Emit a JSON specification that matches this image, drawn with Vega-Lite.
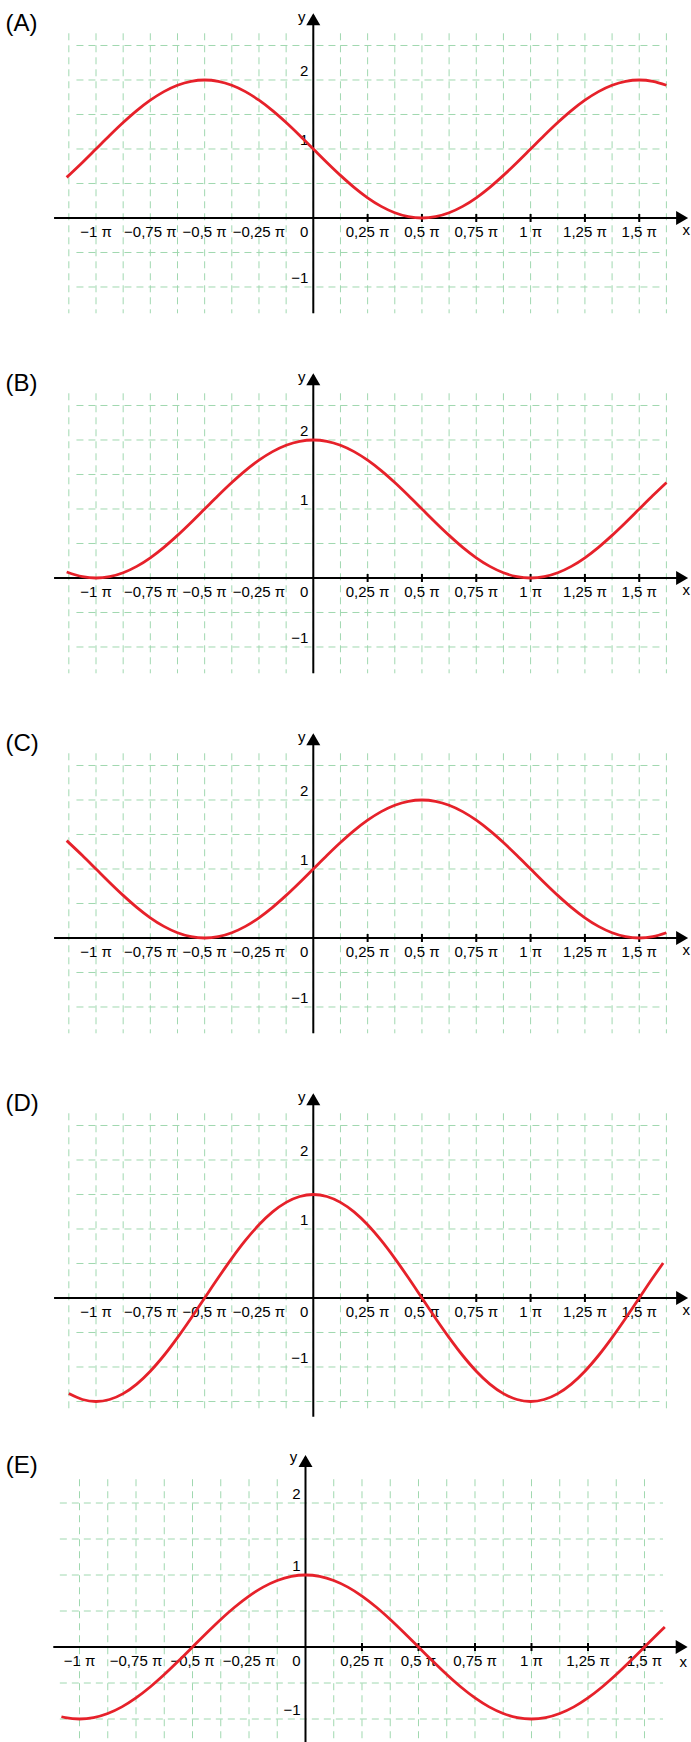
{
"$schema":"https://vega.github.io/schema/vega-lite/v6.json",
"padding":0,"spacing":0,
"config":{"view":{"stroke":null},"concat":{"spacing":0}},
"datasets":{
"vg":[{"x":-1.125},{"x":-1},{"x":-0.875},{"x":-0.75},{"x":-0.625},{"x":-0.5},{"x":-0.375},{"x":-0.25},{"x":-0.125},{"x":0},{"x":0.125},{"x":0.25},{"x":0.375},{"x":0.5},{"x":0.625},{"x":0.75},{"x":0.875},{"x":1},{"x":1.125},{"x":1.25},{"x":1.375},{"x":1.5},{"x":1.625}],
"vgE":[{"x":-1},{"x":-0.875},{"x":-0.75},{"x":-0.625},{"x":-0.5},{"x":-0.375},{"x":-0.25},{"x":-0.125},{"x":0},{"x":0.125},{"x":0.25},{"x":0.375},{"x":0.5},{"x":0.625},{"x":0.75},{"x":0.875},{"x":1},{"x":1.125},{"x":1.25},{"x":1.375},{"x":1.5}],
"hg":[{"y":2.5},{"y":2},{"y":1.5},{"y":1},{"y":0.5},{"y":-0.5},{"y":-1}],
"hgD":[{"y":2.5},{"y":2},{"y":1.5},{"y":1},{"y":0.5},{"y":-0.5},{"y":-1},{"y":-1.5}],
"hgE":[{"y":2},{"y":1.5},{"y":1},{"y":0.5},{"y":-0.5},{"y":-1}],
"tk":[{"x":0.25},{"x":0.5},{"x":0.75},{"x":1},{"x":1.25},{"x":1.5}],
"xl":[{"x":-1,"label":"−1 π"},{"x":-0.75,"label":"−0,75 π"},{"x":-0.5,"label":"−0,5 π"},{"x":-0.25,"label":"−0,25 π"},{"x":0.25,"label":"0,25 π"},{"x":0.5,"label":"0,5 π"},{"x":0.75,"label":"0,75 π"},{"x":1,"label":"1 π"},{"x":1.25,"label":"1,25 π"},{"x":1.5,"label":"1,5 π"}],
"yl":[{"y":2,"label":"2"},{"y":1,"label":"1"},{"y":-1,"label":"−1"}],
"cA":[{"x":-1.135,"y":0.589},{"x":-1.0625,"y":0.8049},{"x":-1,"y":1},{"x":-0.9375,"y":1.1951},{"x":-0.875,"y":1.3827},{"x":-0.8125,"y":1.5556},{"x":-0.75,"y":1.7071},{"x":-0.6875,"y":1.8315},{"x":-0.625,"y":1.9239},{"x":-0.5625,"y":1.9808},{"x":-0.5,"y":2},{"x":-0.4375,"y":1.9808},{"x":-0.375,"y":1.9239},{"x":-0.3125,"y":1.8315},{"x":-0.25,"y":1.7071},{"x":-0.1875,"y":1.5556},{"x":-0.125,"y":1.3827},{"x":-0.0625,"y":1.1951},{"x":0,"y":1},{"x":0.0625,"y":0.8049},{"x":0.125,"y":0.6173},{"x":0.1875,"y":0.4444},{"x":0.25,"y":0.2929},{"x":0.3125,"y":0.1685},{"x":0.375,"y":0.0761},{"x":0.4375,"y":0.0192},{"x":0.5,"y":0},{"x":0.5625,"y":0.0192},{"x":0.625,"y":0.0761},{"x":0.6875,"y":0.1685},{"x":0.75,"y":0.2929},{"x":0.8125,"y":0.4444},{"x":0.875,"y":0.6173},{"x":0.9375,"y":0.8049},{"x":1,"y":1},{"x":1.0625,"y":1.1951},{"x":1.125,"y":1.3827},{"x":1.1875,"y":1.5556},{"x":1.25,"y":1.7071},{"x":1.3125,"y":1.8315},{"x":1.375,"y":1.9239},{"x":1.4375,"y":1.9808},{"x":1.5,"y":2},{"x":1.5625,"y":1.9808},{"x":1.625,"y":1.9239}],
"cB":[{"x":-1.135,"y":0.0868},{"x":-1.0625,"y":0.0192},{"x":-1,"y":0},{"x":-0.9375,"y":0.0192},{"x":-0.875,"y":0.0761},{"x":-0.8125,"y":0.1685},{"x":-0.75,"y":0.2929},{"x":-0.6875,"y":0.4444},{"x":-0.625,"y":0.6173},{"x":-0.5625,"y":0.8049},{"x":-0.5,"y":1},{"x":-0.4375,"y":1.1951},{"x":-0.375,"y":1.3827},{"x":-0.3125,"y":1.5556},{"x":-0.25,"y":1.7071},{"x":-0.1875,"y":1.8315},{"x":-0.125,"y":1.9239},{"x":-0.0625,"y":1.9808},{"x":0,"y":2},{"x":0.0625,"y":1.9808},{"x":0.125,"y":1.9239},{"x":0.1875,"y":1.8315},{"x":0.25,"y":1.7071},{"x":0.3125,"y":1.5556},{"x":0.375,"y":1.3827},{"x":0.4375,"y":1.1951},{"x":0.5,"y":1},{"x":0.5625,"y":0.8049},{"x":0.625,"y":0.6173},{"x":0.6875,"y":0.4444},{"x":0.75,"y":0.2929},{"x":0.8125,"y":0.1685},{"x":0.875,"y":0.0761},{"x":0.9375,"y":0.0192},{"x":1,"y":0},{"x":1.0625,"y":0.0192},{"x":1.125,"y":0.0761},{"x":1.1875,"y":0.1685},{"x":1.25,"y":0.2929},{"x":1.3125,"y":0.4444},{"x":1.375,"y":0.6173},{"x":1.4375,"y":0.8049},{"x":1.5,"y":1},{"x":1.5625,"y":1.1951},{"x":1.625,"y":1.3827}],
"cC":[{"x":-1.135,"y":1.411},{"x":-1.0625,"y":1.1951},{"x":-1,"y":1},{"x":-0.9375,"y":0.8049},{"x":-0.875,"y":0.6173},{"x":-0.8125,"y":0.4444},{"x":-0.75,"y":0.2929},{"x":-0.6875,"y":0.1685},{"x":-0.625,"y":0.0761},{"x":-0.5625,"y":0.0192},{"x":-0.5,"y":0},{"x":-0.4375,"y":0.0192},{"x":-0.375,"y":0.0761},{"x":-0.3125,"y":0.1685},{"x":-0.25,"y":0.2929},{"x":-0.1875,"y":0.4444},{"x":-0.125,"y":0.6173},{"x":-0.0625,"y":0.8049},{"x":0,"y":1},{"x":0.0625,"y":1.1951},{"x":0.125,"y":1.3827},{"x":0.1875,"y":1.5556},{"x":0.25,"y":1.7071},{"x":0.3125,"y":1.8315},{"x":0.375,"y":1.9239},{"x":0.4375,"y":1.9808},{"x":0.5,"y":2},{"x":0.5625,"y":1.9808},{"x":0.625,"y":1.9239},{"x":0.6875,"y":1.8315},{"x":0.75,"y":1.7071},{"x":0.8125,"y":1.5556},{"x":0.875,"y":1.3827},{"x":0.9375,"y":1.1951},{"x":1,"y":1},{"x":1.0625,"y":0.8049},{"x":1.125,"y":0.6173},{"x":1.1875,"y":0.4444},{"x":1.25,"y":0.2929},{"x":1.3125,"y":0.1685},{"x":1.375,"y":0.0761},{"x":1.4375,"y":0.0192},{"x":1.5,"y":0},{"x":1.5625,"y":0.0192},{"x":1.625,"y":0.0761}],
"cD":[{"x":-1.125,"y":-1.3858},{"x":-1.0625,"y":-1.4712},{"x":-1,"y":-1.5},{"x":-0.9375,"y":-1.4712},{"x":-0.875,"y":-1.3858},{"x":-0.8125,"y":-1.2473},{"x":-0.75,"y":-1.0607},{"x":-0.6875,"y":-0.8334},{"x":-0.625,"y":-0.574},{"x":-0.5625,"y":-0.2927},{"x":-0.5,"y":0},{"x":-0.4375,"y":0.2927},{"x":-0.375,"y":0.574},{"x":-0.3125,"y":0.8334},{"x":-0.25,"y":1.0607},{"x":-0.1875,"y":1.2473},{"x":-0.125,"y":1.3858},{"x":-0.0625,"y":1.4712},{"x":0,"y":1.5},{"x":0.0625,"y":1.4712},{"x":0.125,"y":1.3858},{"x":0.1875,"y":1.2473},{"x":0.25,"y":1.0607},{"x":0.3125,"y":0.8334},{"x":0.375,"y":0.574},{"x":0.4375,"y":0.2927},{"x":0.5,"y":0},{"x":0.5625,"y":-0.2927},{"x":0.625,"y":-0.574},{"x":0.6875,"y":-0.8334},{"x":0.75,"y":-1.0607},{"x":0.8125,"y":-1.2473},{"x":0.875,"y":-1.3858},{"x":0.9375,"y":-1.4712},{"x":1,"y":-1.5},{"x":1.0625,"y":-1.4712},{"x":1.125,"y":-1.3858},{"x":1.1875,"y":-1.2473},{"x":1.25,"y":-1.0607},{"x":1.3125,"y":-0.8334},{"x":1.375,"y":-0.574},{"x":1.4375,"y":-0.2927},{"x":1.5,"y":0},{"x":1.5625,"y":0.2927},{"x":1.61,"y":0.508}],
"cE":[{"x":-1.08,"y":-0.9686},{"x":-1.0625,"y":-0.9808},{"x":-1,"y":-1},{"x":-0.9375,"y":-0.9808},{"x":-0.875,"y":-0.9239},{"x":-0.8125,"y":-0.8315},{"x":-0.75,"y":-0.7071},{"x":-0.6875,"y":-0.5556},{"x":-0.625,"y":-0.3827},{"x":-0.5625,"y":-0.1951},{"x":-0.5,"y":0},{"x":-0.4375,"y":0.1951},{"x":-0.375,"y":0.3827},{"x":-0.3125,"y":0.5556},{"x":-0.25,"y":0.7071},{"x":-0.1875,"y":0.8315},{"x":-0.125,"y":0.9239},{"x":-0.0625,"y":0.9808},{"x":0,"y":1},{"x":0.0625,"y":0.9808},{"x":0.125,"y":0.9239},{"x":0.1875,"y":0.8315},{"x":0.25,"y":0.7071},{"x":0.3125,"y":0.5556},{"x":0.375,"y":0.3827},{"x":0.4375,"y":0.1951},{"x":0.5,"y":0},{"x":0.5625,"y":-0.1951},{"x":0.625,"y":-0.3827},{"x":0.6875,"y":-0.5556},{"x":0.75,"y":-0.7071},{"x":0.8125,"y":-0.8315},{"x":0.875,"y":-0.9239},{"x":0.9375,"y":-0.9808},{"x":1,"y":-1},{"x":1.0625,"y":-0.9808},{"x":1.125,"y":-0.9239},{"x":1.1875,"y":-0.8315},{"x":1.25,"y":-0.7071},{"x":1.3125,"y":-0.5556},{"x":1.375,"y":-0.3827},{"x":1.4375,"y":-0.1951},{"x":1.5,"y":0},{"x":1.5625,"y":0.1951},{"x":1.59,"y":0.279}]
},
"vconcat":[
{"width":691,"height":360,"layer":[
{"data":{"name":"vg"},"mark":{"type":"rule","color":"#a0d8b0","strokeWidth":1,"strokeDash":[7,5]},"encoding":{"x":{"field":"x","type":"quantitative","scale":{"domain":[-1.4418,1.7382],"nice":false,"zero":false},"axis":null},"y":{"datum":2.677,"type":"quantitative","scale":{"domain":[-2.058,3.1594],"nice":false,"zero":false},"axis":null},"y2":{"datum":-1.381}}},
{"data":{"name":"hg"},"mark":{"type":"rule","color":"#a0d8b0","strokeWidth":1,"strokeDash":[7,5]},"encoding":{"y":{"field":"y","type":"quantitative"},"x":{"datum":-1.09},"x2":{"datum":1.6}}},
{"data":{"values":[{}]},"mark":{"type":"rule","color":"black","strokeWidth":2},"encoding":{"x":{"datum":-1.193},"x2":{"datum":1.7},"y":{"datum":0}}},
{"data":{"values":[{}]},"mark":{"type":"rule","color":"black","strokeWidth":2},"encoding":{"x":{"datum":0},"y":{"datum":-1.381},"y2":{"datum":2.94}}},
{"data":{"name":"tk"},"mark":{"type":"rule","color":"black","strokeWidth":2},"encoding":{"x":{"field":"x","type":"quantitative"},"y":{"datum":-0.058},"y2":{"datum":0.058}}},
{"data":{"values":[{}]},"mark":{"type":"point","shape":"M-1.714,-1L0,0L-1.714,1Z","size":196,"filled":true,"color":"black","opacity":1},"encoding":{"x":{"datum":1.725},"y":{"datum":0}}},
{"data":{"values":[{}]},"mark":{"type":"point","shape":"M-1,1.714L0,0L1,1.714Z","size":196,"filled":true,"color":"black","opacity":1},"encoding":{"x":{"datum":0},"y":{"datum":2.967}}},
{"data":{"name":"xl"},"mark":{"type":"text","font":"Liberation Sans","fontSize":15,"color":"black","baseline":"alphabetic","dy":19.5},"encoding":{"x":{"field":"x","type":"quantitative"},"y":{"datum":0},"text":{"field":"label"}}},
{"data":{"name":"yl"},"mark":{"type":"text","font":"Liberation Sans","fontSize":15,"color":"black","align":"right","baseline":"alphabetic","dx":-5,"dy":-3.5},"encoding":{"x":{"datum":0},"y":{"field":"y","type":"quantitative"},"text":{"field":"label"}}},
{"data":{"values":[{}]},"mark":{"type":"text","text":"0","font":"Liberation Sans","fontSize":15,"color":"black","align":"right","baseline":"alphabetic","dx":-5,"dy":19.5},"encoding":{"x":{"datum":0},"y":{"datum":0}}},
{"data":{"values":[{}]},"mark":{"type":"text","text":"x","font":"Liberation Sans","fontSize":15,"color":"black","baseline":"alphabetic","dx":-2,"dy":17},"encoding":{"x":{"datum":1.725},"y":{"datum":0}}},
{"data":{"values":[{}]},"mark":{"type":"text","text":"y","font":"Liberation Sans","fontSize":15,"color":"black","baseline":"alphabetic","dx":-11.5,"dy":8.4},"encoding":{"x":{"datum":0},"y":{"datum":2.967}}},
{"data":{"values":[{}]},"mark":{"type":"text","text":"(A)","font":"Liberation Sans","fontSize":24,"color":"black","align":"left","baseline":"alphabetic"},"encoding":{"x":{"datum":-1.4165},"y":{"datum":2.714}}},
{"data":{"name":"cA"},"mark":{"type":"line","color":"#e6212a","strokeWidth":2.8,"interpolate":"monotone"},"encoding":{"x":{"field":"x","type":"quantitative"},"y":{"field":"y","type":"quantitative"}}}
]},
{"width":691,"height":360,"layer":[
{"data":{"name":"vg"},"mark":{"type":"rule","color":"#a0d8b0","strokeWidth":1,"strokeDash":[7,5]},"encoding":{"x":{"field":"x","type":"quantitative","scale":{"domain":[-1.4418,1.7382],"nice":false,"zero":false},"axis":null},"y":{"datum":2.677,"type":"quantitative","scale":{"domain":[-2.058,3.1594],"nice":false,"zero":false},"axis":null},"y2":{"datum":-1.381}}},
{"data":{"name":"hg"},"mark":{"type":"rule","color":"#a0d8b0","strokeWidth":1,"strokeDash":[7,5]},"encoding":{"y":{"field":"y","type":"quantitative"},"x":{"datum":-1.09},"x2":{"datum":1.6}}},
{"data":{"values":[{}]},"mark":{"type":"rule","color":"black","strokeWidth":2},"encoding":{"x":{"datum":-1.193},"x2":{"datum":1.7},"y":{"datum":0}}},
{"data":{"values":[{}]},"mark":{"type":"rule","color":"black","strokeWidth":2},"encoding":{"x":{"datum":0},"y":{"datum":-1.381},"y2":{"datum":2.94}}},
{"data":{"name":"tk"},"mark":{"type":"rule","color":"black","strokeWidth":2},"encoding":{"x":{"field":"x","type":"quantitative"},"y":{"datum":-0.058},"y2":{"datum":0.058}}},
{"data":{"values":[{}]},"mark":{"type":"point","shape":"M-1.714,-1L0,0L-1.714,1Z","size":196,"filled":true,"color":"black","opacity":1},"encoding":{"x":{"datum":1.725},"y":{"datum":0}}},
{"data":{"values":[{}]},"mark":{"type":"point","shape":"M-1,1.714L0,0L1,1.714Z","size":196,"filled":true,"color":"black","opacity":1},"encoding":{"x":{"datum":0},"y":{"datum":2.967}}},
{"data":{"name":"xl"},"mark":{"type":"text","font":"Liberation Sans","fontSize":15,"color":"black","baseline":"alphabetic","dy":19.5},"encoding":{"x":{"field":"x","type":"quantitative"},"y":{"datum":0},"text":{"field":"label"}}},
{"data":{"name":"yl"},"mark":{"type":"text","font":"Liberation Sans","fontSize":15,"color":"black","align":"right","baseline":"alphabetic","dx":-5,"dy":-3.5},"encoding":{"x":{"datum":0},"y":{"field":"y","type":"quantitative"},"text":{"field":"label"}}},
{"data":{"values":[{}]},"mark":{"type":"text","text":"0","font":"Liberation Sans","fontSize":15,"color":"black","align":"right","baseline":"alphabetic","dx":-5,"dy":19.5},"encoding":{"x":{"datum":0},"y":{"datum":0}}},
{"data":{"values":[{}]},"mark":{"type":"text","text":"x","font":"Liberation Sans","fontSize":15,"color":"black","baseline":"alphabetic","dx":-2,"dy":17},"encoding":{"x":{"datum":1.725},"y":{"datum":0}}},
{"data":{"values":[{}]},"mark":{"type":"text","text":"y","font":"Liberation Sans","fontSize":15,"color":"black","baseline":"alphabetic","dx":-11.5,"dy":8.4},"encoding":{"x":{"datum":0},"y":{"datum":2.967}}},
{"data":{"values":[{}]},"mark":{"type":"text","text":"(B)","font":"Liberation Sans","fontSize":24,"color":"black","align":"left","baseline":"alphabetic"},"encoding":{"x":{"datum":-1.4165},"y":{"datum":2.714}}},
{"data":{"name":"cB"},"mark":{"type":"line","color":"#e6212a","strokeWidth":2.8,"interpolate":"monotone"},"encoding":{"x":{"field":"x","type":"quantitative"},"y":{"field":"y","type":"quantitative"}}}
]},
{"width":691,"height":360,"layer":[
{"data":{"name":"vg"},"mark":{"type":"rule","color":"#a0d8b0","strokeWidth":1,"strokeDash":[7,5]},"encoding":{"x":{"field":"x","type":"quantitative","scale":{"domain":[-1.4418,1.7382],"nice":false,"zero":false},"axis":null},"y":{"datum":2.677,"type":"quantitative","scale":{"domain":[-2.058,3.1594],"nice":false,"zero":false},"axis":null},"y2":{"datum":-1.381}}},
{"data":{"name":"hg"},"mark":{"type":"rule","color":"#a0d8b0","strokeWidth":1,"strokeDash":[7,5]},"encoding":{"y":{"field":"y","type":"quantitative"},"x":{"datum":-1.09},"x2":{"datum":1.6}}},
{"data":{"values":[{}]},"mark":{"type":"rule","color":"black","strokeWidth":2},"encoding":{"x":{"datum":-1.193},"x2":{"datum":1.7},"y":{"datum":0}}},
{"data":{"values":[{}]},"mark":{"type":"rule","color":"black","strokeWidth":2},"encoding":{"x":{"datum":0},"y":{"datum":-1.381},"y2":{"datum":2.94}}},
{"data":{"name":"tk"},"mark":{"type":"rule","color":"black","strokeWidth":2},"encoding":{"x":{"field":"x","type":"quantitative"},"y":{"datum":-0.058},"y2":{"datum":0.058}}},
{"data":{"values":[{}]},"mark":{"type":"point","shape":"M-1.714,-1L0,0L-1.714,1Z","size":196,"filled":true,"color":"black","opacity":1},"encoding":{"x":{"datum":1.725},"y":{"datum":0}}},
{"data":{"values":[{}]},"mark":{"type":"point","shape":"M-1,1.714L0,0L1,1.714Z","size":196,"filled":true,"color":"black","opacity":1},"encoding":{"x":{"datum":0},"y":{"datum":2.967}}},
{"data":{"name":"xl"},"mark":{"type":"text","font":"Liberation Sans","fontSize":15,"color":"black","baseline":"alphabetic","dy":19.5},"encoding":{"x":{"field":"x","type":"quantitative"},"y":{"datum":0},"text":{"field":"label"}}},
{"data":{"name":"yl"},"mark":{"type":"text","font":"Liberation Sans","fontSize":15,"color":"black","align":"right","baseline":"alphabetic","dx":-5,"dy":-3.5},"encoding":{"x":{"datum":0},"y":{"field":"y","type":"quantitative"},"text":{"field":"label"}}},
{"data":{"values":[{}]},"mark":{"type":"text","text":"0","font":"Liberation Sans","fontSize":15,"color":"black","align":"right","baseline":"alphabetic","dx":-5,"dy":19.5},"encoding":{"x":{"datum":0},"y":{"datum":0}}},
{"data":{"values":[{}]},"mark":{"type":"text","text":"x","font":"Liberation Sans","fontSize":15,"color":"black","baseline":"alphabetic","dx":-2,"dy":17},"encoding":{"x":{"datum":1.725},"y":{"datum":0}}},
{"data":{"values":[{}]},"mark":{"type":"text","text":"y","font":"Liberation Sans","fontSize":15,"color":"black","baseline":"alphabetic","dx":-11.5,"dy":8.4},"encoding":{"x":{"datum":0},"y":{"datum":2.967}}},
{"data":{"values":[{}]},"mark":{"type":"text","text":"(C)","font":"Liberation Sans","fontSize":24,"color":"black","align":"left","baseline":"alphabetic"},"encoding":{"x":{"datum":-1.4165},"y":{"datum":2.714}}},
{"data":{"name":"cC"},"mark":{"type":"line","color":"#e6212a","strokeWidth":2.8,"interpolate":"monotone"},"encoding":{"x":{"field":"x","type":"quantitative"},"y":{"field":"y","type":"quantitative"}}}
]},
{"width":691,"height":360,"layer":[
{"data":{"name":"vg"},"mark":{"type":"rule","color":"#a0d8b0","strokeWidth":1,"strokeDash":[7,5]},"encoding":{"x":{"field":"x","type":"quantitative","scale":{"domain":[-1.4418,1.7382],"nice":false,"zero":false},"axis":null},"y":{"datum":2.677,"type":"quantitative","scale":{"domain":[-2.058,3.1594],"nice":false,"zero":false},"axis":null},"y2":{"datum":-1.62}}},
{"data":{"name":"hgD"},"mark":{"type":"rule","color":"#a0d8b0","strokeWidth":1,"strokeDash":[7,5]},"encoding":{"y":{"field":"y","type":"quantitative"},"x":{"datum":-1.09},"x2":{"datum":1.6}}},
{"data":{"values":[{}]},"mark":{"type":"rule","color":"black","strokeWidth":2},"encoding":{"x":{"datum":-1.193},"x2":{"datum":1.7},"y":{"datum":0}}},
{"data":{"values":[{}]},"mark":{"type":"rule","color":"black","strokeWidth":2},"encoding":{"x":{"datum":0},"y":{"datum":-1.72},"y2":{"datum":2.94}}},
{"data":{"name":"tk"},"mark":{"type":"rule","color":"black","strokeWidth":2},"encoding":{"x":{"field":"x","type":"quantitative"},"y":{"datum":-0.058},"y2":{"datum":0.058}}},
{"data":{"values":[{}]},"mark":{"type":"point","shape":"M-1.714,-1L0,0L-1.714,1Z","size":196,"filled":true,"color":"black","opacity":1},"encoding":{"x":{"datum":1.725},"y":{"datum":0}}},
{"data":{"values":[{}]},"mark":{"type":"point","shape":"M-1,1.714L0,0L1,1.714Z","size":196,"filled":true,"color":"black","opacity":1},"encoding":{"x":{"datum":0},"y":{"datum":2.967}}},
{"data":{"name":"xl"},"mark":{"type":"text","font":"Liberation Sans","fontSize":15,"color":"black","baseline":"alphabetic","dy":19.5},"encoding":{"x":{"field":"x","type":"quantitative"},"y":{"datum":0},"text":{"field":"label"}}},
{"data":{"name":"yl"},"mark":{"type":"text","font":"Liberation Sans","fontSize":15,"color":"black","align":"right","baseline":"alphabetic","dx":-5,"dy":-3.5},"encoding":{"x":{"datum":0},"y":{"field":"y","type":"quantitative"},"text":{"field":"label"}}},
{"data":{"values":[{}]},"mark":{"type":"text","text":"0","font":"Liberation Sans","fontSize":15,"color":"black","align":"right","baseline":"alphabetic","dx":-5,"dy":19.5},"encoding":{"x":{"datum":0},"y":{"datum":0}}},
{"data":{"values":[{}]},"mark":{"type":"text","text":"x","font":"Liberation Sans","fontSize":15,"color":"black","baseline":"alphabetic","dx":-2,"dy":17},"encoding":{"x":{"datum":1.725},"y":{"datum":0}}},
{"data":{"values":[{}]},"mark":{"type":"text","text":"y","font":"Liberation Sans","fontSize":15,"color":"black","baseline":"alphabetic","dx":-11.5,"dy":8.4},"encoding":{"x":{"datum":0},"y":{"datum":2.967}}},
{"data":{"values":[{}]},"mark":{"type":"text","text":"(D)","font":"Liberation Sans","fontSize":24,"color":"black","align":"left","baseline":"alphabetic"},"encoding":{"x":{"datum":-1.4165},"y":{"datum":2.714}}},
{"data":{"name":"cD"},"mark":{"type":"line","color":"#e6212a","strokeWidth":2.8,"interpolate":"monotone"},"encoding":{"x":{"field":"x","type":"quantitative"},"y":{"field":"y","type":"quantitative"}}}
]},
{"width":691,"height":302,"layer":[
{"data":{"name":"vgE"},"mark":{"type":"rule","color":"#a0d8b0","strokeWidth":1,"strokeDash":[7,5]},"encoding":{"x":{"field":"x","type":"quantitative","scale":{"domain":[-1.3518,1.7058],"nice":false,"zero":false},"axis":null},"y":{"datum":2.33,"type":"quantitative","scale":{"domain":[-1.3194,2.875],"nice":false,"zero":false},"axis":null},"y2":{"datum":-1.319}}},
{"data":{"name":"hgE"},"mark":{"type":"rule","color":"#a0d8b0","strokeWidth":1,"strokeDash":[7,5]},"encoding":{"y":{"field":"y","type":"quantitative"},"x":{"datum":-1.087},"x2":{"datum":1.582}}},
{"data":{"values":[{}]},"mark":{"type":"rule","color":"black","strokeWidth":2},"encoding":{"x":{"datum":-1.116},"x2":{"datum":1.67},"y":{"datum":0}}},
{"data":{"values":[{}]},"mark":{"type":"rule","color":"black","strokeWidth":2},"encoding":{"x":{"datum":0},"y":{"datum":-1.319},"y2":{"datum":2.64}}},
{"data":{"name":"tk"},"mark":{"type":"rule","color":"black","strokeWidth":2},"encoding":{"x":{"field":"x","type":"quantitative"},"y":{"datum":-0.056},"y2":{"datum":0.056}}},
{"data":{"values":[{}]},"mark":{"type":"point","shape":"M-1.714,-1L0,0L-1.714,1Z","size":196,"filled":true,"color":"black","opacity":1},"encoding":{"x":{"datum":1.691},"y":{"datum":0}}},
{"data":{"values":[{}]},"mark":{"type":"point","shape":"M-1,1.714L0,0L1,1.714Z","size":196,"filled":true,"color":"black","opacity":1},"encoding":{"x":{"datum":0},"y":{"datum":2.667}}},
{"data":{"name":"xl"},"mark":{"type":"text","font":"Liberation Sans","fontSize":15,"color":"black","baseline":"alphabetic","dy":19},"encoding":{"x":{"field":"x","type":"quantitative"},"y":{"datum":0},"text":{"field":"label"}}},
{"data":{"name":"yl"},"mark":{"type":"text","font":"Liberation Sans","fontSize":15,"color":"black","align":"right","baseline":"alphabetic","dx":-5,"dy":-4},"encoding":{"x":{"datum":0},"y":{"field":"y","type":"quantitative"},"text":{"field":"label"}}},
{"data":{"values":[{}]},"mark":{"type":"text","text":"0","font":"Liberation Sans","fontSize":15,"color":"black","align":"right","baseline":"alphabetic","dx":-5,"dy":19},"encoding":{"x":{"datum":0},"y":{"datum":0}}},
{"data":{"values":[{}]},"mark":{"type":"text","text":"x","font":"Liberation Sans","fontSize":15,"color":"black","baseline":"alphabetic","dx":-4.4,"dy":19.5},"encoding":{"x":{"datum":1.691},"y":{"datum":0}}},
{"data":{"values":[{}]},"mark":{"type":"text","text":"y","font":"Liberation Sans","fontSize":15,"color":"black","baseline":"alphabetic","dx":-12,"dy":7},"encoding":{"x":{"datum":0},"y":{"datum":2.667}}},
{"data":{"values":[{}]},"mark":{"type":"text","text":"(E)","font":"Liberation Sans","fontSize":24,"color":"black","align":"left","baseline":"alphabetic"},"encoding":{"x":{"datum":-1.326},"y":{"datum":2.421}}},
{"data":{"name":"cE"},"mark":{"type":"line","color":"#e6212a","strokeWidth":2.8,"interpolate":"monotone"},"encoding":{"x":{"field":"x","type":"quantitative"},"y":{"field":"y","type":"quantitative"}}}
]}
]
}
